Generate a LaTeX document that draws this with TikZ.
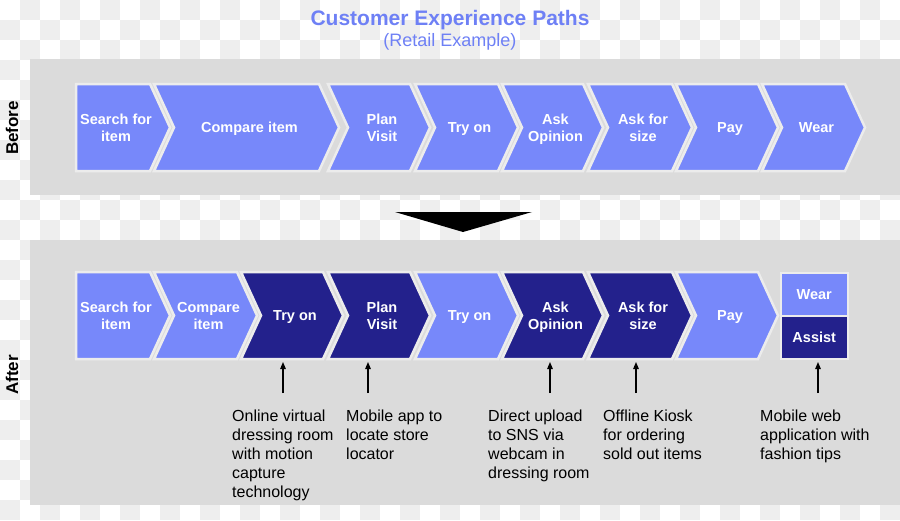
\documentclass[tikz,border=0pt]{standalone}
\usepackage{fontspec}
\setmainfont{Liberation Sans}
\usetikzlibrary{arrows.meta,calc}

\definecolor{stepblue}{RGB}{119,136,250}
\definecolor{stepnavy}{RGB}{35,33,140}
\definecolor{panelgray}{RGB}{219,219,219}
\definecolor{titleblue}{RGB}{110,128,245}
\definecolor{stepline}{RGB}{236,236,236}
\definecolor{checker}{RGB}{238,238,238}

% chevron: name, left x, right x, top y, notch depth, fill, text
\newcommand{\chevron}[7]{%
  \filldraw[fill=#6, draw=stepline, line width=2.5pt, line join=miter]
    (#2,#4) -- (#3,#4) -- ({#3+20},{#4+43.5}) -- (#3,{#4+87})
    -- (#2,{#4+87}) -- ({#2+#5},{#4+43.5}) -- cycle;
  \node[steplabel] (#1) at ({(#2+#3+#5)/2+3},{#4+43.5}) {#7};
}

\begin{document}
\begin{tikzpicture}[x=1pt, y=-1pt,
    steplabel/.style={text=white, font=\fontsize{14.5}{17}\selectfont\bfseries, align=center,
      inner sep=0pt, text depth=0pt},
    note/.style={anchor=north west, inner sep=0pt, align=left, font=\fontsize{16}{19}\selectfont},
    side/.style={rotate=90, font=\fontsize{17}{20}\selectfont\bfseries},
    noteline/.style={line width=1.2pt, -{Triangle[length=7pt,width=5.5pt]}}
  ]
  \useasboundingbox (0,0) rectangle (900,520);

  % background
  \begin{scope}
    \clip (0,0) rectangle (900,520);
    \foreach \i in {0,2,...,44}
      \foreach \j in {0,2,...,24} {
        \fill[checker] ({\i*20+20},{\j*20}) rectangle ++(20,20);
        \fill[checker] ({\i*20},{\j*20+20}) rectangle ++(20,20);
      }
  \end{scope}

  % title
  \node[font=\fontsize{21}{24}\selectfont\bfseries, text=titleblue] (title) at (450,20) {Customer Experience Paths};
  \node[font=\fontsize{18}{21}\selectfont, text=titleblue] (subtitle) at (450,42) {(Retail Example)};

  % panels
  \fill[panelgray] (30,59) rectangle (900,195);
  \fill[panelgray] (30,240) rectangle (900,505);
  \node[side] (before) at (12,128) {Before};
  \node[side] (after) at (12,375) {After};

  % before
  \chevron{b-search}{76}{150}{84}{0}{stepblue}{Search for\\item}
  \chevron{b-compare}{154}{319}{84}{20}{stepblue}{Compare item}
  \chevron{b-plan}{328}{410}{84}{20}{stepblue}{Plan\\Visit}
  \chevron{b-tryon}{415}{498}{84}{20}{stepblue}{Try on}
  \chevron{b-opinion}{502}{583}{84}{20}{stepblue}{Ask\\Opinion}
  \chevron{b-size}{588}{672}{84}{20}{stepblue}{Ask for\\size}
  \chevron{b-pay}{676}{758}{84}{20}{stepblue}{Pay}
  \chevron{b-wear}{762}{845}{84}{20}{stepblue}{Wear}

  \fill (395,212) -- (532,212) -- (463,232) -- cycle;

  % after
  \chevron{a-search}{76}{150}{272}{0}{stepblue}{Search for\\item}
  \chevron{a-compare}{154}{237}{272}{20}{stepblue}{Compare\\item}
  \chevron{a-virtual}{241}{323}{272}{20}{stepnavy}{Try on}
  \chevron{a-plan}{328}{410}{272}{20}{stepnavy}{Plan\\Visit}
  \chevron{a-tryon}{415}{498}{272}{20}{stepblue}{Try on}
  \chevron{a-opinion}{502}{583}{272}{20}{stepnavy}{Ask\\Opinion}
  \chevron{a-size}{588}{672}{272}{20}{stepnavy}{Ask for\\size}
  \chevron{a-pay}{676}{758}{272}{20}{stepblue}{Pay}
  \node[steplabel, fill=stepblue, draw=stepline, line width=1.5pt, anchor=north west,
    minimum width=67pt, minimum height=43pt] (a-wear) at (780,272) {Wear};
  \node[steplabel, fill=stepnavy, draw=stepline, line width=1.5pt, anchor=north west,
    minimum width=67pt, minimum height=43pt] (a-assist) at (780,315) {Assist};

  % notes
  \foreach \n/\x in {virtual/283, plan/368, opinion/550, size/636, assist/818} {
    \coordinate (\n-tail) at (\x,393);
    \coordinate (\n-head) at (\x,362);
    \draw[noteline] (\n-tail) -- (\n-head);
  }
  \node[note] (n-virtual) at (232,410) {Online virtual\\dressing room\\with motion\\capture\\technology};
  \node[note] (n-plan) at (346,410) {Mobile app to\\locate store\\locator};
  \node[note] (n-opinion) at (488,410) {Direct upload\\to SNS via\\webcam in\\dressing room};
  \node[note] (n-size) at (603,410) {Offline Kiosk\\for ordering\\sold out items};
  \node[note] (n-assist) at (760,410) {Mobile web\\application with\\fashion tips};
\end{tikzpicture}
\end{document}
